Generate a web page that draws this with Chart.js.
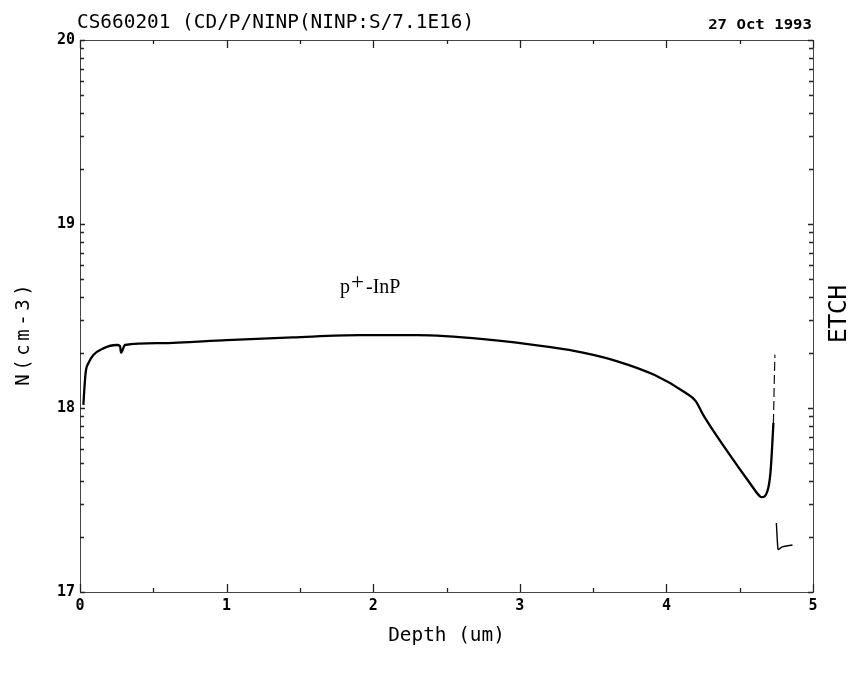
<!DOCTYPE html>
<html>
<head>
<meta charset="utf-8">
<script src="https://cdn.jsdelivr.net/npm/chart.js@4.4.1/dist/chart.umd.min.js"></script>
<style>
  html, body { margin: 0; padding: 0; background: #ffffff; }
  #wrap { width: 850px; height: 675px; }
</style>
</head>
<body>
<div id="wrap"><canvas id="profile" width="850" height="675"></canvas></div>
<script>
// ECV carrier profile: depth (um) vs carrier concentration N (cm^-3)
const depthUm = [0.023, 0.034, 0.041, 0.057, 0.091, 0.159, 0.25, 0.273, 0.28, 0.307, 0.546,
  1.0, 1.45, 1.91, 2.30, 2.75, 3.21, 3.43, 3.66, 3.92, 4.13, 4.20, 4.25, 4.41, 4.57, 4.64,
  4.65, 4.69, 4.71, 4.72, 4.73];
const carrierConc = [1.04e18, 1.42e18, 1.61e18, 1.75e18, 1.94e18, 2.11e18, 2.20e18, 2.17e18, 2.00e18, 2.20e18, 2.25e18,
  2.34e18, 2.42e18, 2.49e18, 2.49e18, 2.37e18, 2.14e18, 2.00e18, 1.80e18, 1.51e18, 1.21e18, 1.09e18, 9.2e17, 5.9e17, 3.9e17, 3.3e17,
  3.28e17, 3.55e17, 4.47e17, 5.9e17, 8.3e17];

// faint steep rise at the end of the etch
const riseDepth = [4.73, 4.735, 4.74];
const riseConc = [8.3e17, 1.3e18, 1.95e18];

// short trailing segment past the etch end
const tailDepth = [4.75, 4.76, 4.765, 4.79, 4.86];
const tailConc = [2.37e17, 1.74e17, 1.70e17, 1.76e17, 1.80e17];

// axis ticks
const depthTicks = [0, 0.5, 1, 1.5, 2, 2.5, 3, 3.5, 4, 4.5, 5];
const decadeTicks = [1e17, 1e18, 1e19, 1e20];
const minorMultipliers = [2, 3, 4, 5, 6, 7, 8, 9];

const toPoints = (xs, ys) => xs.map((x, i) => ({ x: x, y: ys[i] }));

const MONO = '"DejaVu Sans Mono", monospace';

function drawScaledText(ctx, text, x, y, font, scaleX, align) {
  ctx.save();
  ctx.font = font;
  ctx.textBaseline = 'alphabetic';
  const w = ctx.measureText(text).width * scaleX;
  let x0 = x;
  if (align === 'center') x0 = x - w / 2;
  else if (align === 'right') x0 = x - w;
  ctx.translate(x0, y);
  ctx.scale(scaleX, 1);
  ctx.textAlign = 'left';
  ctx.fillText(text, 0, 0);
  ctx.restore();
}

function drawSpacedCentered(ctx, text, cx, baseline, font, advance) {
  ctx.save();
  ctx.font = font;
  ctx.textAlign = 'center';
  ctx.textBaseline = 'alphabetic';
  const total = advance * text.length;
  for (let i = 0; i < text.length; i++) {
    ctx.fillText(text[i], cx - total / 2 + advance * (i + 0.5), baseline);
  }
  ctx.restore();
}

const framePlugin = {
  id: 'frameMarks',
  afterDraw(chart) {
    const ctx = chart.ctx;
    const area = chart.chartArea;
    const xs = chart.scales.x;
    const ys = chart.scales.y;

    ctx.save();
    ctx.strokeStyle = '#222';
    ctx.lineWidth = 1.3;
    ctx.setLineDash([]);

    // inward tick marks on left and right edges (log decades)
    decadeTicks.forEach((dec, di) => {
      const py = Math.round(ys.getPixelForValue(dec)) + 0.5;
      ctx.beginPath();
      ctx.moveTo(area.left, py); ctx.lineTo(area.left + 5, py);
      ctx.moveTo(area.right, py); ctx.lineTo(area.right - 5, py);
      ctx.stroke();
      if (di < decadeTicks.length - 1) {
        minorMultipliers.forEach(m => {
          const p = Math.round(ys.getPixelForValue(dec * m)) + 0.5;
          ctx.beginPath();
          ctx.moveTo(area.left, p); ctx.lineTo(area.left + 4, p);
          ctx.moveTo(area.right, p); ctx.lineTo(area.right - 4, p);
          ctx.stroke();
        });
      }
    });

    // inward tick marks on bottom and top edges
    depthTicks.forEach(v => {
      const px = Math.round(xs.getPixelForValue(v)) + 0.5;
      const len = Number.isInteger(v) ? 8 : 4;
      ctx.beginPath();
      ctx.moveTo(px, area.bottom); ctx.lineTo(px, area.bottom - len);
      ctx.moveTo(px, area.top); ctx.lineTo(px, area.top + len);
      ctx.stroke();
    });
    ctx.restore();

    // texts
    ctx.save();
    ctx.fillStyle = '#000';
    drawScaledText(ctx, 'CS660201 (CD/P/NINP(NINP:S/7.1E16)', 77, 28, '20px ' + MONO, 0.97, 'left');
    drawScaledText(ctx, '27 Oct 1993', 812, 29, 'bold 14px ' + MONO, 1.12, 'right');
    drawScaledText(ctx, 'Depth (um)', (area.left + area.right) / 2, 641, '19px ' + MONO, 1.02, 'center');

    // left axis title, reading bottom to top
    ctx.save();
    ctx.translate(22, 335);
    ctx.rotate(-Math.PI / 2);
    drawSpacedCentered(ctx, 'N(cm-3)', 0, 7, '19px ' + MONO, 15);
    ctx.restore();

    // right side marker
    ctx.save();
    ctx.translate(837, 314);
    ctx.rotate(-Math.PI / 2);
    drawSpacedCentered(ctx, 'ETCH', 0, 9, '25px ' + MONO, 14.5);
    ctx.restore();

    // layer annotation
    ctx.font = '20px "Liberation Serif", serif';
    ctx.textBaseline = 'alphabetic';
    ctx.textAlign = 'left';
    ctx.fillText('p', 340, 293);
    ctx.font = '23px "Liberation Serif", serif';
    ctx.fillText('+', 351, 289);
    ctx.font = '20px "Liberation Serif", serif';
    ctx.fillText('-InP', 366, 293);
    ctx.restore();
  }
};

const axisBorder = { display: true, color: '#444', width: 1, dash: [4, 3] };

new Chart(document.getElementById('profile'), {
  type: 'line',
  data: {
    datasets: [
      {
        data: toPoints(depthUm, carrierConc),
        borderColor: '#000', borderWidth: 2.3, pointRadius: 0,
        cubicInterpolationMode: 'monotone', fill: false
      },
      {
        data: toPoints(riseDepth, riseConc),
        borderColor: '#111', borderWidth: 1.2, pointRadius: 0,
        borderDash: [9, 4], fill: false
      },
      {
        data: toPoints(tailDepth, tailConc),
        borderColor: '#000', borderWidth: 1.4, pointRadius: 0,
        tension: 0.3, fill: false
      }
    ]
  },
  options: {
    responsive: false,
    animation: false,
    layout: { padding: 0 },
    plugins: { legend: { display: false }, tooltip: { enabled: false }, title: { display: false } },
    scales: {
      x: {
        type: 'linear', position: 'bottom', min: 0, max: 5,
        afterBuildTicks: s => { s.ticks = depthTicks.map(v => ({ value: v })); },
        ticks: {
          autoSkip: false, maxRotation: 0, padding: 5, color: '#000',
          font: { family: MONO, size: 15, weight: 'bold' },
          callback: v => (Number.isInteger(v) ? String(v) : '')
        },
        grid: { display: false, drawTicks: false },
        border: axisBorder,
        afterFit: s => { s.height = 83; }
      },
      x2: {
        type: 'linear', position: 'top', min: 0, max: 5,
        ticks: { display: false },
        grid: { display: false, drawTicks: false },
        border: axisBorder,
        afterFit: s => { s.height = 40; }
      },
      y: {
        type: 'logarithmic', position: 'left', min: 1e17, max: 1e20,
        afterBuildTicks: s => { s.ticks = decadeTicks.map(v => ({ value: v })); },
        ticks: {
          autoSkip: false, padding: 5, color: '#000',
          font: { family: MONO, size: 15, weight: 'bold' },
          callback: v => String(Math.round(Math.log10(v)))
        },
        grid: { display: false, drawTicks: false },
        border: axisBorder,
        afterFit: s => { s.width = 80; }
      },
      y2: {
        type: 'logarithmic', position: 'right', min: 1e17, max: 1e20,
        ticks: { display: false },
        grid: { display: false, drawTicks: false },
        border: axisBorder,
        afterFit: s => { s.width = 37; }
      }
    }
  },
  plugins: [framePlugin]
});
</script>
</body>
</html>
